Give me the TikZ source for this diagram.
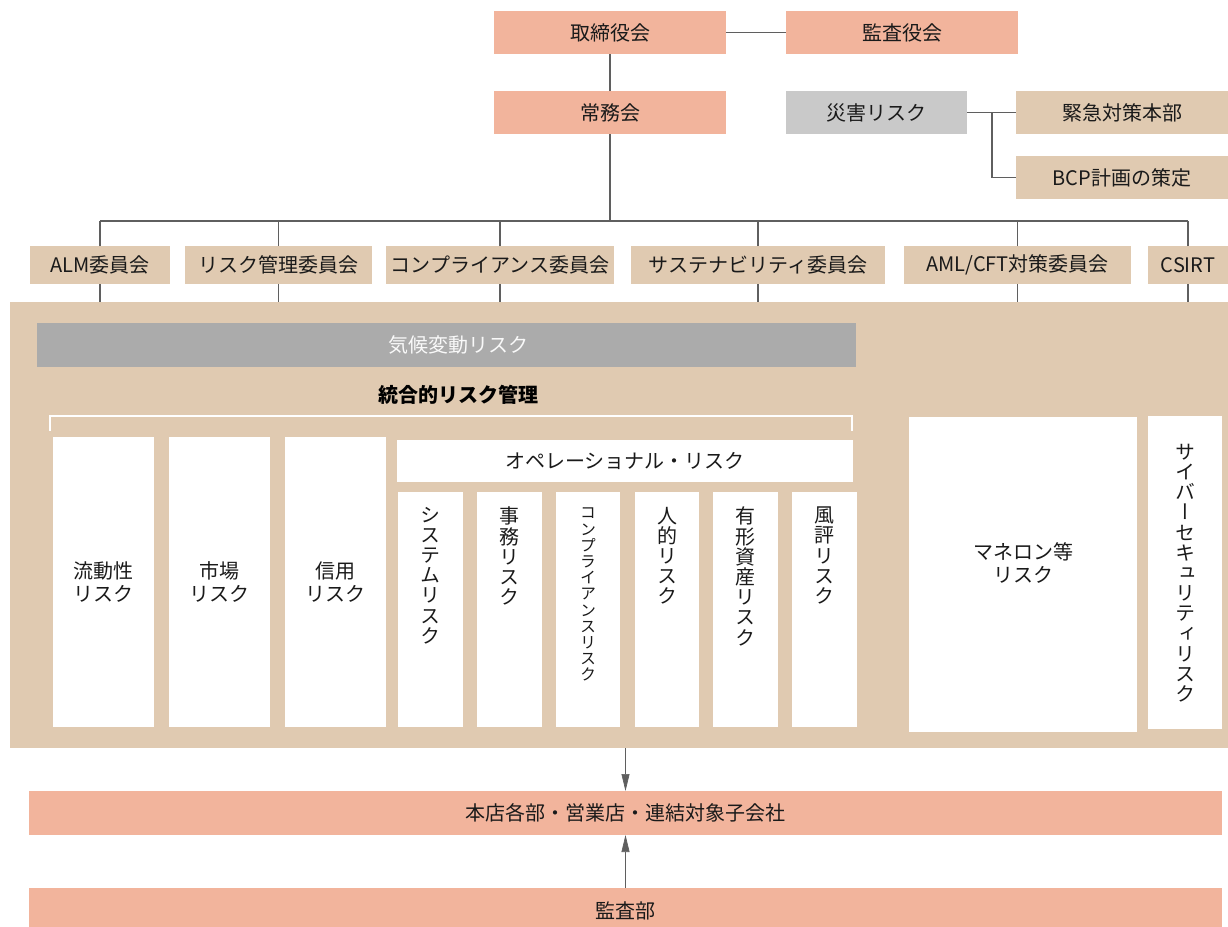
\documentclass[tikz,border=0pt]{standalone}
\usepackage{fontspec}
\setmainfont{Noto Sans CJK JP}
\newfontfamily\vfont[RawFeature=+vert]{Noto Sans CJK JP}
\usetikzlibrary{arrows.meta}
\definecolor{salmon}{HTML}{F2B49C}
\definecolor{beige}{HTML}{E0CAB1}
\definecolor{lgray}{HTML}{C9C9C9}
\definecolor{mgray}{HTML}{ABABAB}
\definecolor{linec}{HTML}{5F5F5F}
\definecolor{txt}{HTML}{1A1A1A}
\tikzset{
  base/.style={inner sep=0pt, outer sep=0pt, text=txt, font=\fontsize{20}{23}\selectfont, align=center},
  salmonbox/.style={base, fill=salmon},
  beigebox/.style={base, fill=beige},
  graybox/.style={base, fill=lgray},
  wbox/.style={base, fill=white},
  conn/.style={draw=linec, line width=1.8pt},
  arr/.style={draw=linec, line width=0.7pt, -{Triangle[length=17pt,width=8pt]}},
  vtext/.style={inner sep=0pt, outer sep=0pt, text=txt, font=\vfont\fontsize{20}{20.2}\selectfont, align=center, anchor=north},
  vsmall/.style={vtext, font=\vfont\fontsize{16}{16.2}\selectfont},
}
\begin{document}
\begin{tikzpicture}[x=1pt, y=-1pt]
\useasboundingbox (0,0) rectangle (1228,926);
% top
\node[salmonbox, minimum width=232pt, minimum height=43pt] (tori) at (610,32.5) {取締役会};
\node[salmonbox, minimum width=232pt, minimum height=43pt] (kansayaku) at (902,32.5) {監査役会};
\node[salmonbox, minimum width=232pt, minimum height=43pt] (jomu) at (610,112.5) {常務会};
\node[graybox, minimum width=181pt, minimum height=43pt] (saigai) at (876.5,112.5) {災害リスク};
\node[beigebox, minimum width=212pt, minimum height=43pt] (kinkyu) at (1122,112.5) {緊急対策本部};
\node[beigebox, minimum width=212pt, minimum height=43pt] (bcp) at (1122,177.5) {BCP計画の策定};
\draw[conn] (tori.east) -- (kansayaku.west);
\draw[conn] (tori.south) -- (jomu.north);
\draw[conn] (saigai.east) -- (kinkyu.west);
\coordinate (br) at (992,112.5);
\draw[conn] (br) |- (bcp.west);
% committees
\node[beigebox, minimum width=140pt, minimum height=38pt] (alm) at (100,265) {ALM委員会};
\node[beigebox, minimum width=187pt, minimum height=38pt] (riskc) at (278.5,265) {リスク管理委員会};
\node[beigebox, minimum width=228pt, minimum height=38pt] (compc) at (500,265) {コンプライアンス委員会};
\node[beigebox, minimum width=254pt, minimum height=38pt] (sust) at (758,265) {サステナビリティ委員会};
\node[beigebox, minimum width=227pt, minimum height=38pt] (aml) at (1017.5,265) {AML/CFT対策委員会};
\node[beigebox, minimum width=80pt, minimum height=38pt] (csirt) at (1188,265) {CSIRT};
% big box
\node[beigebox, minimum width=1218pt, minimum height=446pt] (big) at (619,525) {};
\coordinate (bus) at (610,221);
\draw[conn] (jomu.south) -- (jomu.south |- bus);
\draw[conn] (alm.north |- bus) -- (csirt.north |- bus);
\foreach \c in {alm,riskc,compc,sust,aml,csirt}{
  \draw[conn] (\c.north) -- (\c.north |- bus);
  \draw[conn] (\c.south) -- (\c.south |- big.north);
}
% inside
\node[base, fill=mgray, minimum width=819pt, minimum height=44pt, text=white!95!gray] (climate) at (446.5,345) {\hspace*{24pt}気候変動リスク};
\node[base, font=\fontsize{20}{23}\selectfont\bfseries, text=black] (togo) at (458,395) {統合的リスク管理};
\draw[white, line width=1.2pt] (50,431) |- (852,416) -- (852,431);
\node[wbox, minimum width=101pt, minimum height=290pt] (ryudo) at (103.5,582) {流動性\\リスク};
\node[wbox, minimum width=101pt, minimum height=290pt] (shijo) at (219.5,582) {市場\\リスク};
\node[wbox, minimum width=101pt, minimum height=290pt] (shinyo) at (335.5,582) {信用\\リスク};
\node[wbox, minimum width=456pt, minimum height=42pt] (opr) at (625,461) {オペレーショナル・リスク};
\node[wbox, minimum width=65pt, minimum height=235pt] (sys) at (430.5,609.5) {};
\node[wbox, minimum width=65pt, minimum height=235pt] (jimu) at (509.5,609.5) {};
\node[wbox, minimum width=64pt, minimum height=235pt] (compr) at (588,609.5) {};
\node[wbox, minimum width=64pt, minimum height=235pt] (jin) at (667,609.5) {};
\node[wbox, minimum width=65pt, minimum height=235pt] (yukei) at (745.5,609.5) {};
\node[wbox, minimum width=65pt, minimum height=235pt] (fuhyo) at (824.5,609.5) {};
\node[vtext] (sysT) at (sys.north |- 0,507) {シ\\ス\\テ\\ム\\リ\\ス\\ク};
\node[vtext] (jimuT) at (jimu.north |- 0,507) {事\\務\\リ\\ス\\ク};
\node[vsmall] (comprT) at (compr.north |- 0,508) {コ\\ン\\プ\\ラ\\イ\\ア\\ン\\ス\\リ\\ス\\ク};
\node[vtext] (jinT) at (jin.north |- 0,507) {人\\的\\リ\\ス\\ク};
\node[vtext] (yukeiT) at (yukei.north |- 0,507) {有\\形\\資\\産\\リ\\ス\\ク};
\node[vtext] (fuhyoT) at (fuhyo.north |- 0,507) {風\\評\\リ\\ス\\ク};
\node[wbox, minimum width=228pt, minimum height=315pt] (maneron) at (1023,574.5) {マネロン等\\リスク\\\mbox{}};
\node[wbox, minimum width=74pt, minimum height=313pt] (cyber) at (1185,572.5) {};
\node[vtext] (cyberT) at (cyber.north |- 0,444) {サ\\イ\\バ\\ー\\セ\\キ\\ュ\\リ\\テ\\ィ\\リ\\ス\\ク};
% bottom
\node[salmonbox, minimum width=1193pt, minimum height=44pt] (hq) at (625.5,813) {本店各部・営業店・連結対象子会社};
\node[salmonbox, minimum width=1193pt, minimum height=46pt] (audit) at (625.5,911) {監査部};
\draw[arr] (hq.north |- big.south) -- (hq.north);
\draw[arr] (audit.north) -- (hq.south);
\end{tikzpicture}
\end{document}
